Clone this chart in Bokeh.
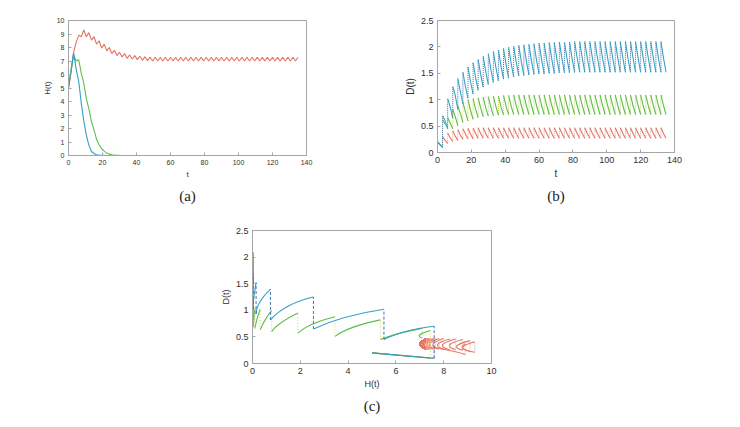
from bokeh.plotting import figure
from bokeh.layouts import row, column, Spacer
from bokeh.models import FixedTicker, NumeralTickFormatter, Title, Range1d
from bokeh.embed import file_html
from bokeh.resources import INLINE

# ---------------- data ----------------
# impulse times and mid-period times
t_imp = [0, 3, 6, 9, 12, 15, 18, 21, 24, 27, 30, 33, 36, 39, 42, 45, 48, 51, 54, 57,
         60, 63, 66, 69, 72, 75, 78, 81, 84, 87, 90, 93, 96, 99, 102, 105, 108, 111, 114, 117,
         120, 123, 126, 129, 132, 135]
t_mid = [1.5, 4.5, 7.5, 10.5, 13.5, 16.5, 19.5, 22.5, 25.5, 28.5, 31.5, 34.5, 37.5, 40.5, 43.5,
         46.5, 49.5, 52.5, 55.5, 58.5, 61.5, 64.5, 67.5, 70.5, 73.5, 76.5, 79.5, 82.5, 85.5, 88.5,
         91.5, 94.5, 97.5, 100.5, 103.5, 106.5, 109.5, 112.5, 115.5, 118.5, 121.5, 124.5, 127.5, 130.5, 133.5]

# blue series
blue_H_imp = [5.0, 7.6, 5.5, 2.55, 0.75, 0.15, 0.03, 0.01, 0, 0,
              0, 0, 0, 0, 0, 0, 0, 0, 0, 0,
              0, 0, 0, 0, 0, 0, 0, 0, 0, 0,
              0, 0, 0, 0, 0, 0, 0, 0, 0, 0,
              0, 0, 0, 0, 0, 0]
blue_H_mid = [6.3, 6.4, 3.9, 1.5, 0.3, 0.06, 0.015, 0.005, 0, 0,
              0, 0, 0, 0, 0, 0, 0, 0, 0, 0,
              0, 0, 0, 0, 0, 0, 0, 0, 0, 0,
              0, 0, 0, 0, 0, 0, 0, 0, 0, 0,
              0, 0, 0, 0, 0]
blue_D_top = [0.2, 0.7, 1.02, 1.25, 1.4, 1.52, 1.62, 1.7, 1.76, 1.82,
              1.87, 1.91, 1.94, 1.97, 1.99, 2.01, 2.03, 2.04, 2.05, 2.06,
              2.07, 2.07, 2.08, 2.08, 2.09, 2.09, 2.09, 2.1, 2.1, 2.1,
              2.1, 2.1, 2.1, 2.1, 2.1, 2.1, 2.1, 2.1, 2.1, 2.1,
              2.1, 2.1, 2.1, 2.1, 2.1]
blue_D_mid = [0.15, 0.6, 0.87, 1.08, 1.15, 1.25, 1.34, 1.42, 1.48, 1.53,
              1.58, 1.61, 1.64, 1.67, 1.69, 1.71, 1.72, 1.73, 1.74, 1.75,
              1.76, 1.76, 1.77, 1.77, 1.78, 1.78, 1.78, 1.79, 1.79, 1.79,
              1.79, 1.79, 1.79, 1.79, 1.79, 1.79, 1.79, 1.79, 1.79, 1.79,
              1.79, 1.79, 1.79, 1.79, 1.79]
blue_D_bot = [0.1, 0.45, 0.65, 0.82, 0.93, 1.03, 1.11, 1.18, 1.24, 1.29,
              1.33, 1.36, 1.39, 1.41, 1.43, 1.45, 1.46, 1.47, 1.48, 1.49,
              1.49, 1.5, 1.5, 1.51, 1.51, 1.51, 1.52, 1.52, 1.52, 1.52,
              1.52, 1.52, 1.52, 1.52, 1.52, 1.52, 1.52, 1.52, 1.52, 1.52,
              1.52, 1.52, 1.52, 1.52, 1.52]

# green series
green_H_imp = [5.0, 7.45, 7.1, 5.35, 3.45, 1.9, 0.8, 0.32, 0.1, 0.03,
               0.01, 0, 0, 0, 0, 0, 0, 0, 0, 0,
               0, 0, 0, 0, 0, 0, 0, 0, 0, 0,
               0, 0, 0, 0, 0, 0, 0, 0, 0, 0,
               0, 0, 0, 0, 0, 0]
green_H_mid = [6.2, 7.0, 6.1, 4.2, 2.5, 1.2, 0.5, 0.18, 0.06, 0.02,
               0.005, 0, 0, 0, 0, 0, 0, 0, 0, 0,
               0, 0, 0, 0, 0, 0, 0, 0, 0, 0,
               0, 0, 0, 0, 0, 0, 0, 0, 0, 0,
               0, 0, 0, 0, 0]
green_D_top = [0.2, 0.62, 0.66, 0.82, 0.88, 0.95, 1.0, 1.02, 1.04, 1.05,
               1.06, 1.07, 1.07, 1.08, 1.08, 1.09, 1.09, 1.09, 1.09, 1.09,
               1.09, 1.09, 1.09, 1.09, 1.09, 1.09, 1.09, 1.09, 1.09, 1.09,
               1.09, 1.09, 1.09, 1.09, 1.09, 1.09, 1.09, 1.09, 1.09, 1.09,
               1.09, 1.09, 1.09, 1.09, 1.09]
green_D_mid = [0.15, 0.54, 0.56, 0.68, 0.74, 0.77, 0.8, 0.82, 0.84, 0.85,
               0.86, 0.87, 0.87, 0.88, 0.88, 0.89, 0.89, 0.89, 0.89, 0.89,
               0.89, 0.89, 0.89, 0.89, 0.89, 0.89, 0.89, 0.89, 0.89, 0.89,
               0.89, 0.89, 0.89, 0.89, 0.89, 0.89, 0.89, 0.89, 0.89, 0.89,
               0.89, 0.89, 0.89, 0.89, 0.89]
green_D_bot = [0.1, 0.48, 0.45, 0.51, 0.57, 0.6, 0.63, 0.66, 0.68, 0.69,
               0.7, 0.71, 0.71, 0.72, 0.72, 0.72, 0.72, 0.72, 0.72, 0.72,
               0.72, 0.72, 0.72, 0.72, 0.72, 0.72, 0.72, 0.72, 0.72, 0.72,
               0.72, 0.72, 0.72, 0.72, 0.72, 0.72, 0.72, 0.72, 0.72, 0.72,
               0.72, 0.72, 0.72, 0.72, 0.72]

# red series
red_H_imp = [5.0, 7.6, 8.9, 9.3, 9.1, 8.8, 8.5, 8.25, 8.0, 7.8,
             7.65, 7.55, 7.45, 7.4, 7.35, 7.32, 7.3, 7.28, 7.28, 7.28,
             7.28, 7.28, 7.28, 7.28, 7.28, 7.28, 7.28, 7.28, 7.28, 7.28,
             7.28, 7.28, 7.28, 7.28, 7.28, 7.28, 7.28, 7.28, 7.28, 7.28,
             7.28, 7.28, 7.28, 7.28, 7.28, 7.28]
red_H_mid = [6.3, 8.4, 8.8, 8.8, 8.55, 8.25, 7.95, 7.75, 7.55, 7.4,
             7.3, 7.2, 7.15, 7.1, 7.05, 7.03, 7.0, 7.0, 7.0, 7.0,
             7.0, 7.0, 7.0, 7.0, 7.0, 7.0, 7.0, 7.0, 7.0, 7.0,
             7.0, 7.0, 7.0, 7.0, 7.0, 7.0, 7.0, 7.0, 7.0, 7.0,
             7.0, 7.0, 7.0, 7.0, 7.0]
red_D_top = [0.2, 0.3, 0.37, 0.41, 0.43, 0.45, 0.46, 0.46, 0.47, 0.47,
             0.47, 0.47, 0.47, 0.47, 0.47, 0.47, 0.47, 0.47, 0.47, 0.47,
             0.47, 0.47, 0.47, 0.47, 0.47, 0.47, 0.47, 0.47, 0.47, 0.47,
             0.47, 0.47, 0.47, 0.47, 0.47, 0.47, 0.47, 0.47, 0.47, 0.47,
             0.47, 0.47, 0.47, 0.47, 0.47]
red_D_mid = [0.15, 0.23, 0.28, 0.31, 0.33, 0.35, 0.35, 0.36, 0.36, 0.36,
             0.36, 0.36, 0.36, 0.36, 0.36, 0.36, 0.36, 0.36, 0.36, 0.36,
             0.36, 0.36, 0.36, 0.36, 0.36, 0.36, 0.36, 0.36, 0.36, 0.36,
             0.36, 0.36, 0.36, 0.36, 0.36, 0.36, 0.36, 0.36, 0.36, 0.36,
             0.36, 0.36, 0.36, 0.36, 0.36]
red_D_bot = [0.1, 0.17, 0.21, 0.23, 0.25, 0.26, 0.26, 0.27, 0.27, 0.27,
             0.27, 0.27, 0.27, 0.27, 0.27, 0.27, 0.27, 0.27, 0.27, 0.27,
             0.27, 0.27, 0.27, 0.27, 0.27, 0.27, 0.27, 0.27, 0.27, 0.27,
             0.27, 0.27, 0.27, 0.27, 0.27, 0.27, 0.27, 0.27, 0.27, 0.27,
             0.27, 0.27, 0.27, 0.27, 0.27]

# axis ticks
a_xticks = [0, 20, 40, 60, 80, 100, 120, 140]
a_yticks = [0, 1, 2, 3, 4, 5, 6, 7, 8, 9, 10]
b_xticks = [0, 20, 40, 60, 80, 100, 120, 140]
b_yticks = [0, 0.5, 1, 1.5, 2, 2.5]
c_xticks = [0, 2, 4, 6, 8, 10]
c_yticks = [0, 0.5, 1, 1.5, 2, 2.5]

# ---------------- styles ----------------
AX = "#a6a6a6"
TXT = "#303030"
FONT = "Liberation Sans"
series = [
    dict(name="red", col="#e27462", jump="#f2a493", dash_c="1 1",
         Hi=red_H_imp, Hm=red_H_mid, Dt=red_D_top, Dm=red_D_mid, Db=red_D_bot),
    dict(name="green", col="#5cbf47", jump="#cdd662", dash_c="1 2",
         Hi=green_H_imp, Hm=green_H_mid, Dt=green_D_top, Dm=green_D_mid, Db=green_D_bot),
    dict(name="blue", col="#34a0c6", jump="#3f72b4", dash_c="3 2",
         Hi=blue_H_imp, Hm=blue_H_mid, Dt=blue_D_top, Dm=blue_D_mid, Db=blue_D_bot),
]


def style(p, xt, yt, tick_fs, lab_fs):
    p.xaxis.ticker = FixedTicker(ticks=xt)
    p.yaxis.ticker = FixedTicker(ticks=yt)
    for ax in p.axis:
        ax.major_tick_in = 3
        ax.major_tick_out = 0
        ax.minor_tick_line_color = None
        ax.axis_line_color = AX
        ax.major_tick_line_color = AX
        ax.major_label_text_color = TXT
        ax.major_label_text_font = FONT
        ax.major_label_text_font_size = tick_fs
        ax.major_label_standoff = 4
        ax.axis_label_text_font = FONT
        ax.axis_label_text_font_style = "normal"
        ax.axis_label_text_color = TXT
        ax.axis_label_text_font_size = lab_fs
        ax.axis_label_standoff = 2
        ax.formatter = NumeralTickFormatter(format="0.[0]")
    p.xgrid.visible = False
    p.ygrid.visible = False
    p.outline_line_color = AX
    p.background_fill_color = "white"
    p.border_fill_color = "white"


def caption(p, text):
    p.add_layout(Title(text=text, align="center", text_font="Liberation Serif",
                       text_font_size="15px", text_font_style="normal",
                       text_color="#222222", standoff=9), "below")


# ---------------- (a) H(t) ----------------
pa = figure(frame_width=238, frame_height=135, x_range=Range1d(0, 140), y_range=Range1d(0, 10),
            output_backend="svg", toolbar_location=None,
            min_border_left=68, min_border_right=20, min_border_top=19, min_border_bottom=56,
            x_axis_label="t", y_axis_label="H(t)")
for s in series:
    tx, hy = [], []
    for k in range(len(t_mid)):
        tx += [t_imp[k], t_mid[k]]
        hy += [s["Hi"][k], s["Hm"][k]]
    tx.append(t_imp[-1])
    hy.append(s["Hi"][-1])
    pa.line(tx, hy, line_color=s["col"], line_width=1.1)
style(pa, a_xticks, a_yticks, "7px", "8px")
caption(pa, "(a)")

# ---------------- (b) D(t) ----------------
pb = figure(frame_width=237, frame_height=132, x_range=Range1d(0, 140), y_range=Range1d(0, 2.5),
            output_backend="svg", toolbar_location=None,
            min_border_left=111, min_border_right=20, min_border_top=20, min_border_bottom=58,
            x_axis_label="t", y_axis_label="D(t)")
for s in series:
    xs = [[t_imp[k], t_mid[k], t_imp[k + 1]] for k in range(len(t_mid))]
    ys = [[s["Dt"][k], s["Dm"][k], s["Db"][k]] for k in range(len(t_mid))]
    jx = [[t_imp[k + 1], t_imp[k + 1]] for k in range(len(t_mid) - 1)]
    jy = [[s["Db"][k], s["Dt"][k + 1]] for k in range(len(t_mid) - 1)]
    pb.multi_line(jx, jy, line_color=s["jump"], line_width=1, line_dash="1 1")
    pb.multi_line(xs, ys, line_color=s["col"], line_width=1.1)
style(pb, b_xticks, b_yticks, "9px", "10px")
caption(pb, "(b)")

# ---------------- (c) D vs H ----------------
pc = figure(frame_width=239, frame_height=133, x_range=Range1d(0, 10), y_range=Range1d(0, 2.5),
            output_backend="svg", toolbar_location=None,
            min_border_left=50, min_border_right=20, min_border_top=20, min_border_bottom=54,
            x_axis_label="H(t)", y_axis_label="D(t)")
n = len(t_mid)
for s in series:
    # smooth arc of each period through its start, middle and end readings
    x0 = [s["Hi"][k] for k in range(n)]
    y0 = [s["Dt"][k] for k in range(n)]
    x1 = [s["Hi"][k + 1] for k in range(n)]
    y1 = [s["Db"][k] for k in range(n)]
    cx = [2 * s["Hm"][k] - 0.5 * (x0[k] + x1[k]) for k in range(n)]
    cy = [2 * s["Dm"][k] - 0.5 * (y0[k] + y1[k]) for k in range(n)]
    pc.quadratic(x0=x0, y0=y0, x1=x1, y1=y1, cx=cx, cy=cy, line_color=s["col"], line_width=1.1)
    jx = [[s["Hi"][k + 1], s["Hi"][k + 1]] for k in range(n - 1)]
    jy = [[s["Db"][k], s["Dt"][k + 1]] for k in range(n - 1)]
    pc.multi_line(jx, jy, line_color=s["jump"], line_width=1, line_dash=s["dash_c"])
style(pc, c_xticks, c_yticks, "9px", "9px")
caption(pc, "(c)")

layout = column(row(pa, pb), row(Spacer(width=202, height=10), pc))
open("out.html", "w").write(file_html(layout, INLINE))
